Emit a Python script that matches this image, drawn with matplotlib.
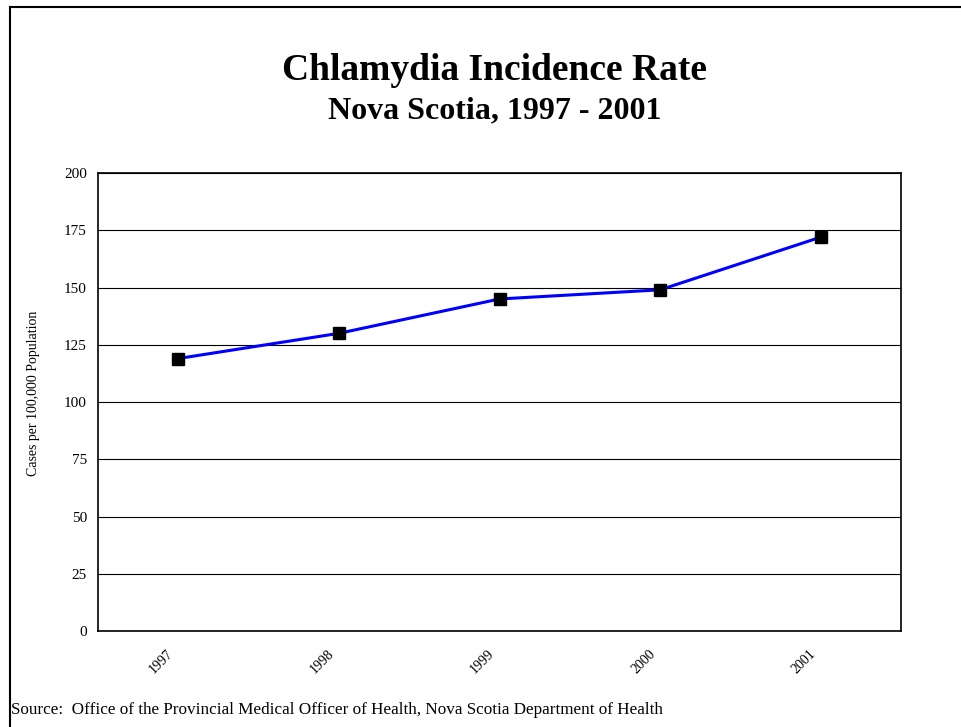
import numpy as np
import matplotlib
import matplotlib.pyplot as plt
from matplotlib.lines import Line2D
from matplotlib.transforms import ScaledTranslation

years = ["1997", "1998", "1999", "2000", "2001"]
rates = [119, 130, 145, 149, 172]
yticks = [0, 25, 50, 75, 100, 125, 150, 175, 200]

matplotlib.rc('font', family='Liberation Serif')

fig = plt.figure(figsize=(9.61, 7.27), dpi=100)
ax = fig.add_axes([0.102, 0.132, 0.8356, 0.630])

# outer frame (only left and top show in the picture)
fig.add_artist(Line2D([0.0104, 0.0104], [0, 0.9904], transform=fig.transFigure, color='black', lw=1.5))
fig.add_artist(Line2D([0.0104, 1.0], [0.9904, 0.9904], transform=fig.transFigure, color='black', lw=1.5))

x = np.arange(len(years))
ax.plot(x, rates, color='#0000ff', lw=2.2, marker='s', markersize=8.5,
        markerfacecolor='black', markeredgecolor='black', zorder=3)

ax.set_xlim(-0.5, len(years) - 0.5)
ax.set_ylim(0, 200)
ax.set_yticks(yticks)
ax.set_xticks(x)
ax.set_xticklabels(years, rotation=45, ha='right', va='center', rotation_mode='anchor', fontsize=10)
ax.tick_params(axis='x', length=0, pad=15)
ax.tick_params(axis='y', length=0, pad=8, labelsize=11)
# shift year labels a bit to the left of their category centre
shift = ScaledTranslation(-0.07, 0, fig.dpi_scale_trans)
for lbl in ax.get_xticklabels():
    lbl.set_transform(lbl.get_transform() + shift)
ax.grid(axis='y', color='black', lw=0.8)
for s in ax.spines.values():
    s.set_linewidth(1.2)

fig.text(34 / 961, 1 - 393 / 727, 'Cases per 100,000 Population', rotation=90,
         ha='center', va='center', fontsize=10)

fig.text(0.515, 1 - 80 / 727, 'Chlamydia Incidence Rate', ha='center', va='baseline',
         fontsize=27, fontweight='bold')
fig.text(0.515, 1 - 118 / 727, 'Nova Scotia, 1997 - 2001', ha='center', va='baseline',
         fontsize=23, fontweight='bold')
fig.text(0.011, 0.023, 'Source:  Office of the Provincial Medical Officer of Health, Nova Scotia Department of Health',
         ha='left', va='center', fontsize=12.3)

fig.savefig('out.png', dpi=100)
